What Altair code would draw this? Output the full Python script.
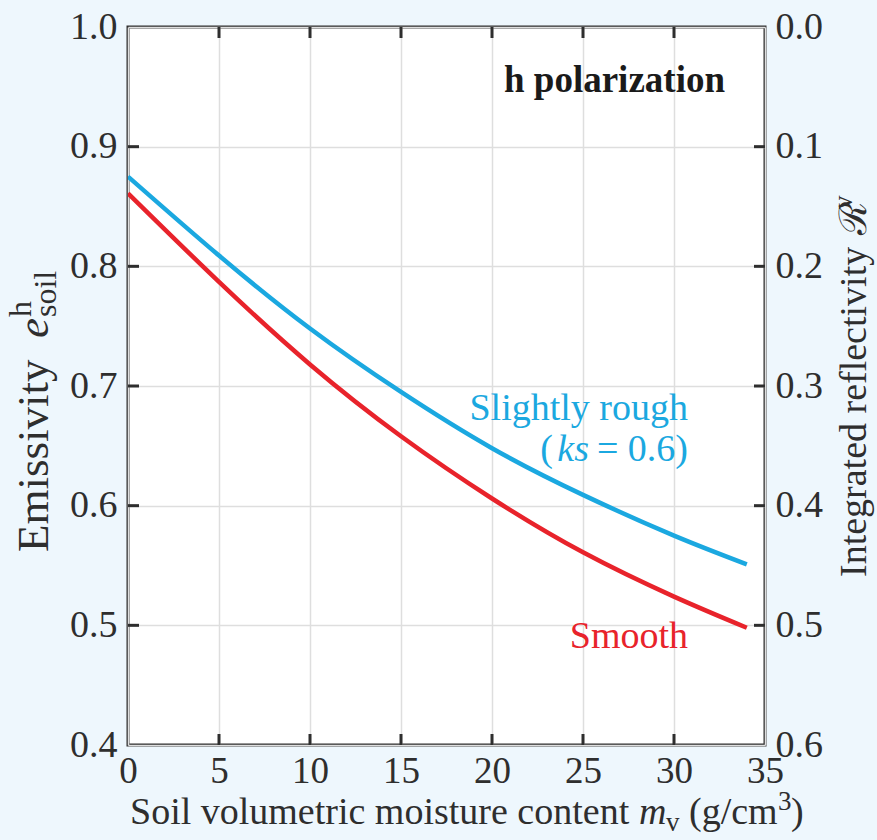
import altair as alt
import pandas as pd

# Soil volumetric moisture content (g/cm^3 axis units)
moisture = [0, 5, 10, 15, 20, 25, 30, 34]
# h-polarized emissivity for the two surface conditions
rough_e = [0.875, 0.809, 0.748, 0.695, 0.648, 0.609, 0.575, 0.551]
smooth_e = [0.861, 0.787, 0.718, 0.658, 0.606, 0.561, 0.524, 0.498]

series_names = ["Slightly rough", "Smooth"]
series_colors = ["#1ba8e0", "#e8232b"]

x_ticks = [0, 5, 10, 15, 20, 25, 30, 35]
e_ticks = [0.4, 0.5, 0.6, 0.7, 0.8, 0.9, 1.0]
r_ticks = [0.0, 0.1, 0.2, 0.3, 0.4, 0.5, 0.6]
x_inner = [5, 10, 15, 20, 25, 30]
e_inner = [0.5, 0.6, 0.7, 0.8, 0.9]
r_inner = [0.1, 0.2, 0.3, 0.4, 0.5]

W, H = 637, 718
FONT = "Liberation Serif"
INK = "#2e2e2e"
FS = 38

curves = pd.DataFrame(
    {
        "m": moisture * 2,
        "e": rough_e + smooth_e,
        "surface": [series_names[0]] * len(moisture) + [series_names[1]] * len(moisture),
    }
)
reflect = pd.DataFrame({"m": moisture, "r": [1 - v for v in smooth_e]})

x_scale = alt.Scale(domain=[0, 35], nice=False, zero=False)
e_scale = alt.Scale(domain=[0.4, 1.0], nice=False, zero=False)
r_scale = alt.Scale(domain=[0.0, 0.6], nice=False, zero=False, reverse=True)

x_axis = alt.Axis(
    values=x_ticks, format="d", title=None, grid=True, ticks=False, domain=False,
    labelFontSize=FS - 1, labelPadding=8, labelFlush=False, labelOverlap=False,
)
e_axis = alt.Axis(
    values=e_ticks, format=".1f", title=None, grid=True, ticks=False, domain=False,
    labelFontSize=FS, labelPadding=11, labelFlush=False, labelOverlap=False,
)
r_axis = alt.Axis(
    orient="right", values=r_ticks, format=".1f", title=None, grid=False, ticks=False,
    domain=False, labelFontSize=FS, labelPadding=10, labelFlush=False, labelOverlap=False,
)

lines = (
    alt.Chart(curves)
    .mark_line(strokeWidth=4.5, interpolate="natural", clip=True)
    .encode(
        x=alt.X("m:Q", scale=x_scale, axis=x_axis),
        y=alt.Y("e:Q", scale=e_scale, axis=e_axis),
        color=alt.Color(
            "surface:N",
            scale=alt.Scale(domain=series_names, range=series_colors),
            legend=None,
        ),
        detail="surface:N",
    )
)

tick_style = dict(color=INK, strokeWidth=3)

# inward-pointing tick marks on all four sides of the frame
bottom_ticks = alt.Chart(pd.DataFrame({"t": x_inner})).mark_rule(**tick_style).encode(
    x=alt.X("t:Q", scale=x_scale, axis=x_axis), y=alt.value(H), y2=alt.value(H - 11)
)
top_ticks = alt.Chart(pd.DataFrame({"t": x_inner})).mark_rule(**tick_style).encode(
    x=alt.X("t:Q", scale=x_scale, axis=x_axis), y=alt.value(0), y2=alt.value(11)
)
left_ticks = alt.Chart(pd.DataFrame({"t": e_inner})).mark_rule(**tick_style).encode(
    y=alt.Y("t:Q", scale=e_scale, axis=e_axis), x=alt.value(0), x2=alt.value(11)
)

right_axis_layer = (
    alt.Chart(reflect)
    .mark_line(strokeOpacity=0)
    .encode(
        x=alt.X("m:Q", scale=x_scale, axis=x_axis),
        y=alt.Y("r:Q", scale=r_scale, axis=r_axis),
    )
)
right_ticks = alt.Chart(pd.DataFrame({"t": r_inner})).mark_rule(**tick_style).encode(
    y=alt.Y("t:Q", scale=r_scale, axis=r_axis), x=alt.value(W), x2=alt.value(W - 11)
)

one = alt.Data(values=[{}])


def label(txt, x, y, size=FS, color=INK, align="left", style="normal", weight="normal", angle=0):
    kw = dict(
        text=txt, align=align, baseline="alphabetic", font=FONT, fontSize=size,
        color=color, fontStyle=style, fontWeight=weight,
    )
    if angle:
        kw["angle"] = angle
    return alt.Chart(one).mark_text(**kw).encode(x=alt.value(x), y=alt.value(y))


blue, red = series_colors
xs = 38
sub = 27
ys = 45
ysub = 32
texts = [
    # panel annotations
    label("h polarization", 597, 65, size=37, color="#1a1a1a", align="right", weight="bold"),
    label("Slightly rough", 560, 393, color=blue, align="right"),
    label("(", 425, 434, color=blue, align="right"),
    label("ks", 461, 434, color=blue, align="right", style="italic"),
    label(" = 0.6)", 560, 434, color=blue, align="right"),
    label("Smooth", 560, 621, color=red, align="right"),
    # x title
    label("Soil volumetric moisture content", 2, 797, size=xs),
    label("m", 511, 797, size=xs, style="italic"),
    label("v", 538, 804, size=sub),
    label("(g/cm", 561, 797, size=xs),
    label("3", 650, 783, size=sub),
    label(")", 663, 797, size=xs),
    # left title
    label("Emissivity", -80, 525, size=ys, angle=270),
    label("e", -80, 311, size=ys, style="italic", angle=270),
    label("h", -97, 290, size=ysub, angle=270),
    label("soil", -72, 290, size=ysub, angle=270),
    # right title
    label("Integrated reflectivity", 738, 550, size=xs, angle=270),
    label("\u211b", 738, 208, size=xs, angle=270),
    label("v", 724, 182, size=sub, angle=270),
]

left_group = alt.layer(lines, bottom_ticks, top_ticks, left_ticks)
right_group = alt.layer(right_axis_layer, right_ticks)

chart = (
    alt.layer(left_group, right_group, *texts)
    .resolve_scale(y="independent")
    .properties(
        width=W,
        height=H,
        autosize=alt.AutoSizeParams(type="none"),
        padding={"left": 128, "top": 27, "right": 112, "bottom": 95},
        background="#eef7fd",
    )
    .configure_view(fill="white", stroke=INK, strokeWidth=3)
    .configure_axis(
        labelFont=FONT, labelColor=INK, gridColor="#dedede", gridWidth=1.5,
    )
)

chart.save("out.html", embed_options={"renderer": "svg", "actions": False})
